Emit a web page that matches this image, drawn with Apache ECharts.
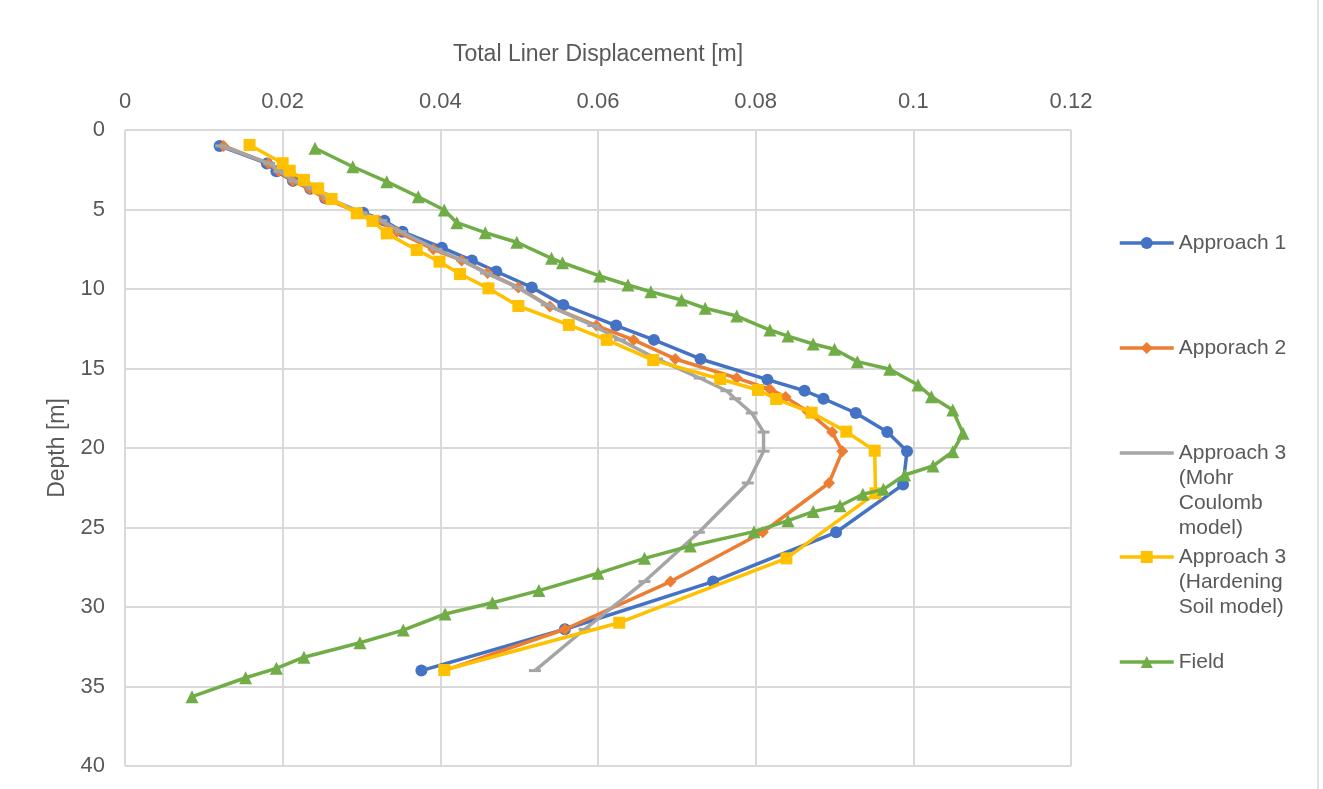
<!DOCTYPE html>
<html>
<head>
<meta charset="utf-8">
<script src="https://cdn.jsdelivr.net/npm/echarts@6/dist/echarts.min.js"></script>
<style>
html,body{margin:0;padding:0;background:#fff;}
#chart{width:1323px;height:789px;}
</style>
</head>
<body>
<div id="chart"></div>
<script>
// ---- data (depth [m], displacement [m]) ----
const xTicks = [0, 0.02, 0.04, 0.06, 0.08, 0.1, 0.12];
const yTicks = [0, 5, 10, 15, 20, 25, 30, 35, 40];

const seriesNames = ['Approach 1', 'Apporach 2', 'Approach 3 (Mohr Coulomb model)', 'Approach 3 (Hardening Soil model)', 'Field'];

const depthA1 = [1.0, 2.1, 2.6, 3.2, 3.7, 4.3, 5.2, 5.7, 6.4, 7.4, 8.2, 8.9, 9.9, 11.0, 12.3, 13.2, 14.4, 15.7, 16.4, 16.9, 17.8, 19.0, 20.2, 22.3, 25.3, 28.4, 31.4, 34.0];
const dispA1  = [0.0120, 0.0180, 0.0192, 0.0213, 0.0235, 0.0254, 0.0302, 0.0329, 0.0352, 0.0402, 0.0440, 0.0471, 0.0516, 0.0556, 0.0623, 0.0671, 0.0730, 0.0815, 0.0862, 0.0886, 0.0927, 0.0967, 0.0992, 0.0987, 0.0902, 0.0746, 0.0558, 0.0376];

const depthA2 = [1.0, 2.1, 2.6, 3.2, 3.7, 4.3, 5.2, 5.7, 6.4, 7.5, 8.2, 9.0, 9.9, 11.1, 12.3, 13.2, 14.4, 15.6, 16.3, 16.8, 17.7, 19.0, 20.2, 22.2, 25.3, 28.4, 31.4, 34.0];
const dispA2  = [0.0125, 0.0182, 0.0195, 0.0213, 0.0234, 0.0253, 0.0297, 0.0322, 0.0345, 0.0391, 0.0427, 0.0460, 0.0499, 0.0539, 0.0598, 0.0645, 0.0698, 0.0776, 0.0818, 0.0838, 0.0866, 0.0897, 0.0910, 0.0893, 0.0809, 0.0692, 0.0558, 0.0405];

const depthMC = [1.0, 2.1, 2.6, 3.2, 3.7, 4.3, 5.2, 5.7, 6.4, 7.5, 8.2, 9.0, 9.9, 11.0, 12.3, 13.2, 14.4, 15.6, 16.4, 16.9, 17.8, 19.0, 20.2, 22.2, 25.3, 28.4, 31.4, 34.0];
const dispMC  = [0.0122, 0.0183, 0.0196, 0.0215, 0.0238, 0.0258, 0.0300, 0.0325, 0.0350, 0.0395, 0.0428, 0.0458, 0.0498, 0.0535, 0.0594, 0.0628, 0.0675, 0.0729, 0.0763, 0.0774, 0.0795, 0.0810, 0.0810, 0.0790, 0.0728, 0.0659, 0.0583, 0.0520];

const depthHS = [0.94, 2.09, 2.56, 3.14, 3.67, 4.34, 5.24, 5.72, 6.5, 7.55, 8.28, 9.06, 9.96, 11.07, 12.26, 13.2, 14.47, 15.66, 16.35, 16.92, 17.78, 18.97, 20.17, 22.85, 26.94, 30.99, 33.96];
const dispHS  = [0.0158, 0.0200, 0.0209, 0.0227, 0.0245, 0.0262, 0.0294, 0.0314, 0.0332, 0.0370, 0.0399, 0.0425, 0.0461, 0.0499, 0.0563, 0.0611, 0.0670, 0.0755, 0.0803, 0.0826, 0.0871, 0.0915, 0.0951, 0.0952, 0.0839, 0.0627, 0.0405];

const depthF = [1.15, 2.31, 3.25, 4.2, 5.03, 5.83, 6.46, 7.06, 8.07, 8.35, 9.18, 9.75, 10.17, 10.69, 11.21, 11.7, 12.58, 12.96, 13.46, 13.79, 14.57, 15.05, 16.04, 16.77, 17.61, 19.08, 20.23, 21.13, 21.7, 22.6, 22.91, 23.63, 24.0, 24.57, 25.26, 26.16, 26.94, 27.88, 28.97, 29.73, 30.44, 31.45, 32.25, 33.16, 33.86, 34.45, 35.64];
const dispF  = [0.0241, 0.0289, 0.0332, 0.0372, 0.0405, 0.0421, 0.0457, 0.0497, 0.0541, 0.0555, 0.0602, 0.0638, 0.0667, 0.0706, 0.0736, 0.0776, 0.0818, 0.0841, 0.0873, 0.0900, 0.0929, 0.0970, 0.1006, 0.1023, 0.1050, 0.1063, 0.1050, 0.1025, 0.0989, 0.0962, 0.0936, 0.0907, 0.0873, 0.0841, 0.0798, 0.0717, 0.0659, 0.0600, 0.0525, 0.0466, 0.0406, 0.0353, 0.0298, 0.0227, 0.0192, 0.0153, 0.0085];

// ---- build ----
function pairs(xs, ys) { return xs.map((x, i) => [x, ys[i]]); }

const colors = ['#4472C4', '#ED7D31', '#A5A5A5', '#FFC000', '#70AD47'];
const symbols = ['circle', 'diamond', 'rect', 'rect', 'triangle'];
const symbolSizes = [12, 12, [12, 3], 12, 13];
const dataSets = [
  pairs(dispA1, depthA1), pairs(dispA2, depthA2), pairs(dispMC, depthMC),
  pairs(dispHS, depthHS), pairs(dispF, depthF)
];

const legendText = {
  'Approach 1': 'Approach 1',
  'Apporach 2': 'Apporach 2',
  'Approach 3 (Mohr Coulomb model)': '\n\n\nApproach 3\n(Mohr\nCoulomb\nmodel)',
  'Approach 3 (Hardening Soil model)': '\n\nApproach 3\n(Hardening\nSoil model)',
  'Field': 'Field'
};
const legendCenters = [243, 348, 453, 557, 662];
const legendLines = [1, 1, 7, 5, 1];
const LH = 25;
const textColor = '#595959';
const font = 'Liberation Sans, Arial, sans-serif';

const legends = seriesNames.map((n, i) => ({
  data: [i === 2 ? { name: n, itemStyle: { opacity: 0 } } : n],
  orient: 'vertical',
  left: 1118,
  top: legendCenters[i] - legendLines[i] * LH / 2,
  padding: 0,
  itemWidth: 54,
  itemHeight: 15,
  itemGap: 0,
  selectedMode: false,
  lineStyle: { width: 3.5 },
  formatter: (name) => legendText[name],
  textStyle: { color: textColor, fontSize: 21, fontFamily: font, lineHeight: LH }
}));

const series = seriesNames.map((n, i) => ({
  name: n,
  type: 'line',
  data: dataSets[i],
  symbol: symbols[i],
  symbolSize: symbolSizes[i],
  showAllSymbol: true,
  lineStyle: { color: colors[i], width: 3.5 },
  itemStyle: { color: colors[i] },
  z: 2 + i,
  animation: false
}));

const chart = echarts.init(document.getElementById('chart'), null, { renderer: 'canvas' });
chart.setOption({
  backgroundColor: '#ffffff',
  animation: false,
  legend: legends,
  grid: { left: 125, right: 252, top: 130, bottom: 23, containLabel: false },
  xAxis: {
    type: 'value',
    position: 'top',
    min: xTicks[0], max: xTicks[xTicks.length - 1], interval: 0.02,
    name: 'Total Liner Displacement [m]',
    nameLocation: 'middle',
    nameGap: 64,
    nameTextStyle: { color: textColor, fontSize: 23, fontFamily: font },
    axisLine: { show: false },
    axisTick: { show: false },
    axisLabel: { color: textColor, fontSize: 22, fontFamily: font, margin: 17 },
    splitLine: { show: true, lineStyle: { color: '#d9d9d9', width: 2 } }
  },
  yAxis: {
    type: 'value',
    inverse: true,
    min: yTicks[0], max: yTicks[yTicks.length - 1], interval: 5,
    name: 'Depth [m]',
    nameLocation: 'middle',
    nameGap: 53,
    nameTextStyle: { color: textColor, fontSize: 23, fontFamily: font },
    axisLine: { show: false },
    axisTick: { show: false },
    axisLabel: { color: textColor, fontSize: 22, fontFamily: font, margin: 20 },
    splitLine: { show: true, lineStyle: { color: '#d9d9d9', width: 2 } }
  },
  graphic: [{
    type: 'line',
    shape: { x1: 1318, y1: 0, x2: 1318, y2: 789 },
    style: { stroke: '#d9d9d9', lineWidth: 1.5 }
  }],
  series: series
});
</script>
</body>
</html>
